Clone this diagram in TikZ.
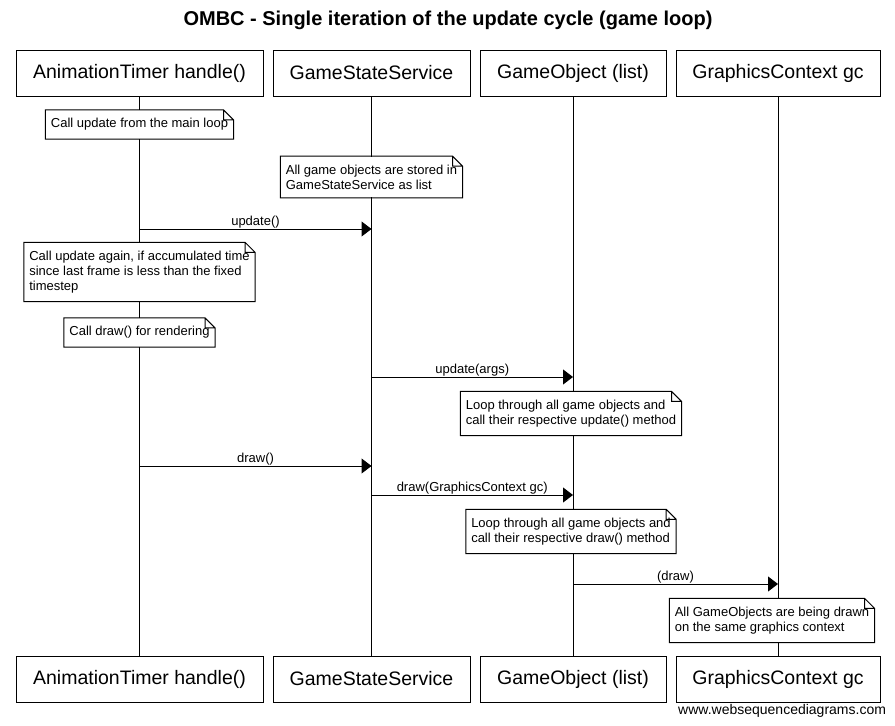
\documentclass[tikz,border=0pt]{standalone}
\usepackage{fontspec}
\setmainfont{Liberation Sans}
\usetikzlibrary{arrows.meta}

\begin{document}
\begin{tikzpicture}[x=1pt, y=-1pt, line width=1pt,
  actor/.style={draw, minimum height=46pt, inner sep=0pt, font=\fontsize{19.5}{22}\selectfont},
  note/.style={fill=white, align=left, inner xsep=5pt, inner ysep=8pt, font=\fontsize{13}{15}\selectfont},
  msg/.style={-{Triangle[length=10pt, width=15pt]}},
  lbl/.style={above, inner sep=0.5pt, font=\fontsize{13}{15}\selectfont}]
  \useasboundingbox (0,0) rectangle (895,726);
  \node[font=\bfseries\fontsize{20}{24}\selectfont] (title) at (448,20) {OMBC - Single iteration of the update cycle (game loop)};
  % participants, top and bottom
  \node[actor, minimum width=247pt] (a1) at (139.5,73) {AnimationTimer handle()};
  \node[actor, minimum width=197pt] (a2) at (371.5,73) {GameStateService};
  \node[actor, minimum width=186pt] (a3) at (573,73) {GameObject (list)};
  \node[actor, minimum width=204pt] (a4) at (778,73) {GraphicsContext gc};
  \node[actor, minimum width=247pt] (b1) at (139.5,679) {AnimationTimer handle()};
  \node[actor, minimum width=197pt] (b2) at (371.5,679) {GameStateService};
  \node[actor, minimum width=186pt] (b3) at (573,679) {GameObject (list)};
  \node[actor, minimum width=204pt] (b4) at (778,679) {GraphicsContext gc};
  \foreach \i in {1,...,4}
    \draw (a\i) -- (b\i);
  % messages
  \draw[msg] (a1 |- 0,229) -- node[lbl] {update()} (a2 |- 0,229);
  \draw[msg] (a2 |- 0,377) -- node[lbl] {update(args)} (a3 |- 0,377);
  \draw[msg] (a1 |- 0,466) -- node[lbl] {draw()} (a2 |- 0,466);
  \draw[msg] (a2 |- 0,495) -- node[lbl] {draw(GraphicsContext gc)} (a3 |- 0,495);
  \draw[msg] (a3 |- 0,584) -- node[lbl] {(draw)} (a4 |- 0,584);
  % notes
  \node[note] (n1) at (a1 |- 0,124.5) {Call update from the main loop};
  \node[note] (n2) at (a2 |- 0,177) {All game objects are stored in\\GameStateService as list};
  \node[note] (n3) at (a1 |- 0,272) {Call update again, if accumulated time\\since last frame is less than the fixed\\timestep};
  \node[note] (n4) at (a1 |- 0,332.5) {Call draw() for rendering};
  \node[note] (n5) at ([xshift=-2pt]a3 |- 0,413.5) {Loop through all game objects and\\call their respective update() method};
  \node[note] (n6) at ([xshift=-2pt]a3 |- 0,531.5) {Loop through all game objects and\\call their respective draw() method};
  \node[note] (n7) at ([xshift=-6pt]a4 |- 0,620.5) {All GameObjects are being drawn\\on the same graphics context};
  \foreach \n in {n1,n2,n3,n4,n5,n6,n7}
    \draw (\n.north west) -- ([xshift=-10pt]\n.north east) -- ([yshift=-10pt]\n.north east)
      -- (\n.south east) -- (\n.south west) -- cycle
      ([xshift=-10pt]\n.north east) |- ([yshift=-10pt]\n.north east);
  \node[anchor=east, inner sep=0pt, font=\fontsize{14}{16}\selectfont] (wsd) at ([xshift=6pt, yshift=-8pt]b4.south east) {www.websequencediagrams.com};
\end{tikzpicture}
\end{document}
